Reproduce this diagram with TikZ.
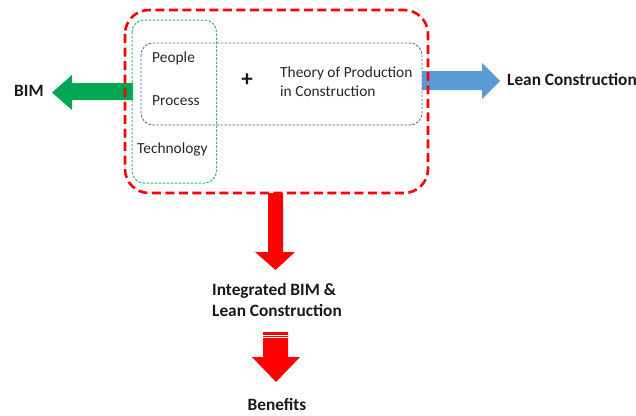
\documentclass[tikz,border=0pt]{standalone}
\usepackage{fontspec}
\setmainfont{Carlito}
\begin{document}
\begin{tikzpicture}[x=1pt,y=-1pt,
  lbl/.style={inner sep=0pt,font=\fontsize{15.4}{19}\selectfont,text=black!85},
  blbl/.style={inner sep=0pt,font=\fontsize{17.3}{21}\selectfont\bfseries,text=black!90},
  redbox/.style={draw=red,line width=2.6pt,dash pattern=on 9pt off 4.5pt,rounded corners=24pt},
  greenbox/.style={draw={rgb,255:red,60;green,185;blue,120},line width=1pt,dash pattern=on 2.5pt off 1.5pt,rounded corners=12pt},
  bluebox/.style={draw={rgb,255:red,75;green,110;blue,160},line width=0.9pt,dash pattern=on 2.5pt off 1.5pt,rounded corners=12pt}]
\useasboundingbox (0,0) rectangle (636,415);
% arrows (drawn first so boxes lie above them)
\fill[color={rgb,255:red,0;green,166;blue,81}] (133,83) -- (72,83) -- (72,75) -- (52,92.5) -- (72,110) -- (72,100) -- (133,100) -- cycle;
\fill[color={rgb,255:red,91;green,155;blue,213}] (422,71) -- (482,71) -- (482,63) -- (500,81) -- (482,99) -- (482,90) -- (422,90) -- cycle;
\fill[red] (268,193) -- (283,193) -- (283,252) -- (295,252) -- (275.5,270) -- (255,252) -- (268,252) -- cycle;
\fill[red] (263,332) -- (288,332) -- (288,357) -- (300,357) -- (276,382) -- (252,357) -- (263,357) -- cycle;
\draw[white,line width=0.8pt] (263,335) -- (288,335) (263,337.8) -- (288,337.8);
% boxes
\draw[redbox] (125,10) rectangle (428,193);
\draw[greenbox] (132,20) rectangle (216.5,183);
\draw[bluebox] (141,43) rectangle (422,125);
% texts
\node[lbl,anchor=base west] (people) at (152,62.7) {People};
\node[lbl,anchor=base west] (process) at (152,105) {Process};
\node[lbl,anchor=base west] (tech) at (137,153.3) {Technology};
\node[inner sep=0pt,font=\fontsize{23}{23}\selectfont\bfseries,text=black!90] (plus) at (247,80) {+};
\node[lbl,anchor=base west,align=left] (theory) at (280,96.7) {Theory of Production\\in Construction};
\node[blbl,anchor=base west] (bim) at (14,96.7) {BIM};
\node[blbl,anchor=base west] (lean) at (507,85) {Lean Construction};
\node[blbl,anchor=base west,align=left] (integ) at (212,316.7) {Integrated BIM \&\\Lean Construction};
\node[blbl,anchor=base] (ben) at (277,410.7) {Benefits};
\end{tikzpicture}
\end{document}
